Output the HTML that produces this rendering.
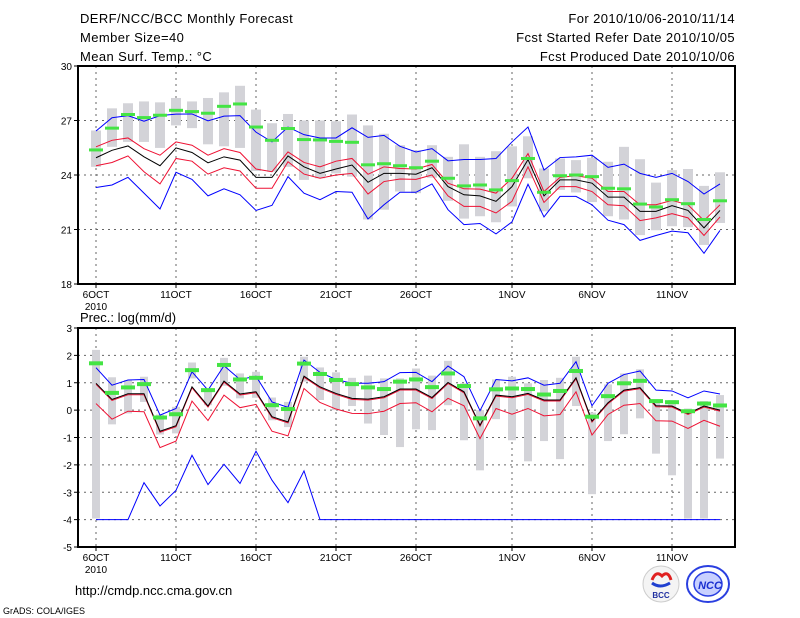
<!DOCTYPE html>
<html><head><meta charset="utf-8"><style>
html,body{margin:0;padding:0;background:#fff;}
svg{display:block;font-family:"Liberation Sans",sans-serif;}
</style></head><body>
<svg id="c" width="800" height="618" viewBox="0 0 800 618" xmlns="http://www.w3.org/2000/svg">
<rect width="800" height="618" fill="#fff"/>
<g font-size="13" fill="#000" letter-spacing="0.4">
<text x="80" y="23">DERF/NCC/BCC Monthly Forecast</text>
<text x="80" y="42">Member Size=40</text>
<text x="80" y="61">Mean Surf. Temp.: °C</text>
<text x="735" y="23" text-anchor="end">For 2010/10/06-2010/11/14</text>
<text x="735" y="42" text-anchor="end">Fcst Started Refer Date 2010/10/05</text>
<text x="735" y="61" text-anchor="end">Fcst Produced Date 2010/10/06</text>
</g>
<text x="80" y="322" font-size="13">Prec.: log(mm/d)</text>
<text x="75" y="595" font-size="13">http://cmdp.ncc.cma.gov.cn</text>
<text x="3" y="614" font-size="9">GrADS: COLA/IGES</text>
<g>
<circle cx="661" cy="584" r="18" fill="#f4f4f4" stroke="#ccc"/>
<path d="M652 580 q4 -10 10 -4 q6 -6 9 4" stroke="#e02020" stroke-width="3" fill="none"/>
<path d="M652 583 q8 6 18 0" stroke="#2040d0" stroke-width="3" fill="none"/>
<text x="661" y="598" font-size="8" font-weight="bold" text-anchor="middle" fill="#2030a0">BCC</text>
</g>
<g>
<ellipse cx="708" cy="584" rx="21" ry="18" fill="#fff" stroke="#2a3fe0" stroke-width="2"/>
<ellipse cx="708" cy="584" rx="14" ry="12" fill="#c8d0ff" stroke="#2a3fe0" stroke-width="1.5"/>
<text x="710" y="589" font-size="11" font-weight="bold" font-style="italic" text-anchor="middle" fill="#1a2fd0">NCC</text>
</g>
<g id="top"></g>
<g id="bot"></g>
</svg>
<script>
// ---- temperature panel data (°C) ----
const tBlack=[24.95,25.36,25.6,25.0,24.51,25.49,25.24,24.67,25.0,24.82,23.87,23.87,25.05,24.45,24.09,24.33,24.55,23.6,24.09,24.09,24.04,24.4,23.36,22.91,22.85,22.55,23.36,24.85,22.85,23.73,23.73,23.55,22.78,22.78,22.0,22.0,22.31,22.05,21.09,22.05];
const tRedHi=[25.55,25.91,26.04,25.45,25.09,25.82,25.64,25.09,25.45,25.24,24.33,24.18,25.27,24.69,24.45,24.76,24.91,24.04,24.45,24.36,24.33,24.58,23.55,23.24,23.22,23.0,23.82,25.18,23.09,23.87,23.96,23.82,23.09,23.09,22.36,22.36,22.6,22.36,21.49,22.36];
const tRedLo=[24.51,24.69,25.05,24.18,23.51,24.91,24.76,24.05,24.4,24.22,23.27,23.27,24.73,24.05,23.82,24.0,24.09,22.95,23.64,23.78,23.76,24.0,22.85,22.27,22.27,21.91,22.55,24.45,22.49,23.36,23.36,23.09,22.36,22.31,21.49,21.64,21.87,21.64,20.67,21.69];
const tBlueHi=[26.42,27.15,27.27,26.96,27.27,27.35,27.36,26.98,27.24,27.27,26.36,25.82,26.64,26.22,26.04,26.04,26.6,26.07,26.18,25.58,25.27,25.45,24.78,24.85,24.85,24.91,25.82,26.64,24.27,24.96,25.0,25.09,24.42,24.6,24.09,23.87,24.09,23.64,22.95,23.51];
const tBlueLo=[23.31,23.45,23.87,23.0,22.13,24.15,23.76,22.85,23.24,22.91,22.05,22.33,23.91,23.0,22.64,23.09,23.05,21.58,22.36,23.05,23.05,23.51,22.09,21.27,21.33,20.76,21.42,23.49,21.69,22.82,22.82,22.36,21.51,21.27,20.4,20.67,20.91,20.82,19.69,20.95];
const tGreen=[25.38,26.58,27.33,27.16,27.29,27.56,27.49,27.4,27.78,27.91,26.64,25.91,26.56,25.95,25.93,25.85,25.8,24.56,24.62,24.51,24.4,24.76,23.82,23.4,23.45,23.18,23.69,24.91,23.05,23.96,24.0,23.91,23.27,23.24,22.4,22.24,22.64,22.42,21.55,22.58];
const tMax=[26.45,27.67,27.95,28.05,28.0,28.24,28.05,28.24,28.55,28.91,27.6,26.85,27.36,27.0,27.0,26.96,27.33,26.73,26.27,25.64,25.36,25.64,25.0,25.69,25.0,25.31,25.58,26.13,24.36,24.91,24.82,24.95,24.73,25.55,24.87,23.58,24.27,24.33,23.4,24.15];
const tMin=[24.45,25.55,25.82,25.82,25.49,26.73,26.58,25.69,25.58,25.49,24.22,24.18,24.45,23.73,23.82,24.09,23.91,21.55,22.09,23.09,23.0,23.85,22.58,21.6,21.73,21.4,22.27,23.82,22.0,23.18,23.04,22.51,21.73,21.55,20.69,20.96,21.18,21.13,20.15,21.36];
const tTicks=[18,21,24,27,30];
// ---- precipitation panel data (log mm/d) ----
const pBlack=[0.98,0.39,0.6,0.6,-0.77,-0.57,0.85,0.15,1.06,0.59,0.67,-0.24,-0.43,1.24,0.85,0.61,0.43,0.4,0.49,0.77,0.77,0.46,1.01,0.67,-0.55,0.55,0.49,0.61,0.37,0.37,1.18,-0.4,0.27,0.73,0.82,0.16,0.15,-0.12,0.15,0.0];
const pRedLo=[0.24,-0.33,-0.04,-0.06,-1.37,-1.13,0.33,-0.38,0.55,0.09,0.21,-0.77,-0.94,0.79,0.28,0.04,-0.12,-0.13,-0.04,0.24,0.27,-0.06,0.43,0.16,-1.04,0.06,-0.15,0.06,-0.21,-0.16,0.67,-0.91,-0.16,0.18,0.24,-0.39,-0.4,-0.67,-0.37,-0.59];
const pBlueHi=[1.55,0.91,1.1,1.12,-0.18,0.06,1.4,0.73,1.62,1.12,1.24,0.3,0.1,1.83,1.38,1.12,0.98,0.98,1.04,1.37,1.38,1.04,1.61,1.22,-0.02,1.12,1.07,1.18,0.91,0.98,1.77,0.16,0.98,1.3,1.43,0.73,0.7,0.45,0.7,0.59];
const pBlueLo=[-4,-4,-4,-2.65,-3.5,-2.93,-1.65,-2.72,-1.98,-2.68,-1.5,-2.56,-3.38,-2.22,-4,-4,-4,-4,-4,-4,-4,-4,-4,-4,-4,-4,-4,-4,-4,-4,-4,-4,-4,-4,-4,-4,-4,-4,-4,-4];
const pGreen=[1.71,0.63,0.83,0.95,-0.27,-0.15,1.46,0.73,1.65,1.12,1.18,0.18,0.04,1.7,1.32,1.1,0.95,0.83,0.77,1.04,1.12,0.84,1.34,0.88,-0.3,0.76,0.79,0.77,0.57,0.7,1.43,-0.24,0.51,0.98,1.07,0.33,0.29,-0.04,0.24,0.17];
const pMax=[2.2,1.2,1.1,1.22,-0.16,0.12,1.74,0.79,1.91,1.34,1.4,0.46,0.3,1.95,1.56,1.38,1.18,1.26,1.16,1.16,1.52,1.26,1.8,0.98,0.0,1.12,1.22,0.98,1.1,1.18,1.95,-0.09,0.94,1.34,1.49,0.37,0.37,0.06,0.33,0.55];
const pMin=[-3.96,-0.52,-0.12,0.3,-0.89,-0.85,1.16,0.18,0.89,0.43,0.45,-0.37,-0.62,1.04,0.37,0.0,0.15,-0.49,-0.91,-1.35,-0.7,-0.73,0.18,-1.1,-2.2,-0.33,-1.1,-1.87,-1.13,-1.79,0.15,-3.07,-1.13,-0.88,-0.3,-1.59,-2.38,-3.96,-3.96,-1.77];
const pTicks=[-5,-4,-3,-2,-1,0,1,2,3];
const xLabels=["6OCT","11OCT","16OCT","21OCT","26OCT","1NOV","6NOV","11NOV"];
const xLabelDays=[0,5,10,15,20,26,31,36];

const NS="http://www.w3.org/2000/svg";
function mk(parent,tag,attrs){const e=document.createElementNS(NS,tag);for(const k in attrs)e.setAttribute(k,attrs[k]);parent.appendChild(e);return e;}
const X0=78,X1=735;
function xs(d){return 96+d*16;}

function panel(g,top,bot,vmin,vmax,ticks,series,bars,green,barW,greenH,key){
  const ys=v=>bot-(v-vmin)/(vmax-vmin)*(bot-top);
  ticks.forEach(t=>{
    if(t===vmin||t===vmax)return;
    const l=mk(g,'line',{x1:X0,x2:X1,y1:ys(t),y2:ys(t),stroke:'#666','stroke-dasharray':'2,4','stroke-width':1});
    
    
  });
  xLabelDays.forEach(d=>{
    const l=mk(g,'line',{x1:xs(d),x2:xs(d),y1:top,y2:bot,stroke:'#666','stroke-dasharray':'2,4','stroke-width':1});
    
    
  });
  for(let i=0;i<bars[0].length;i++){
    const y1=ys(bars[1][i]),y2=ys(bars[0][i]);
    const r=mk(g,'rect',{x:xs(i)-barW/2,y:y1,width:barW,height:Math.max(1,y2-y1),fill:'#d3d3d8'});
    
    
  }
  series.forEach(s=>{
    const p=mk(g,'polyline',{points:s.d.map((v,i)=>xs(i)+','+(ys(v)+(s.off||0))).join(' '),fill:'none',stroke:s.c,'stroke-width':s.w||1});
    
    
  });
  green.forEach((v,i)=>{
    const r=mk(g,'rect',{x:xs(i)-7,y:ys(v)-greenH/2,width:14,height:greenH,fill:'#44e444'});
    
    
  });
  const f=mk(g,'rect',{x:X0,y:top,width:X1-X0,height:bot-top,fill:'none',stroke:'#000','stroke-width':2});
  
  
  ticks.forEach(t=>{
    const tl=mk(g,'text',{x:72,y:ys(t)+4,'font-size':10,'text-anchor':'end'});
    tl.textContent=t;
    
    
    const tk=mk(g,'line',{x1:X0-4,x2:X0,y1:ys(t),y2:ys(t),stroke:'#000'});
    
    
  });
  xLabels.forEach((lab,j)=>{
    const tx=mk(g,'text',{x:xs(xLabelDays[j]),y:bot+14,'font-size':10,'text-anchor':'middle'});
    tx.textContent=lab;
    
    
    const tk=mk(g,'line',{x1:xs(xLabelDays[j]),x2:xs(xLabelDays[j]),y1:bot,y2:bot+4,stroke:'#000'});
    
    
  });
  const yr=mk(g,'text',{x:xs(0),y:bot+26,'font-size':10,'text-anchor':'middle'});
  yr.textContent='2010';
  
  
}
panel(document.getElementById('top'),66,284,18,30,tTicks,[
  {d:tBlueHi,c:'#0000ff',n:'blue-upper'},{d:tBlueLo,c:'#0000ff',n:'blue-lower'},
  {d:tRedHi,c:'#ee1133',n:'red-upper'},{d:tRedLo,c:'#ee1133',n:'red-lower'},
  {d:tBlack,c:'#000',n:'ensemble-mean'}],[tMin,tMax],tGreen,10,3,'temp');
panel(document.getElementById('bot'),328,547,-5,3,pTicks,[
  {d:pBlueHi,c:'#0000ff',n:'blue-upper'},{d:pBlueLo,c:'#0000ff',n:'blue-lower'},
  {d:pRedLo,c:'#ee1133',n:'red-lower'},{d:pBlack,c:'#ee1133',n:'red-upper',off:1},
  {d:pBlack,c:'#000',n:'ensemble-mean'}],[pMin,pMax],pGreen,8,4,'precip');
</script>
</body></html>
